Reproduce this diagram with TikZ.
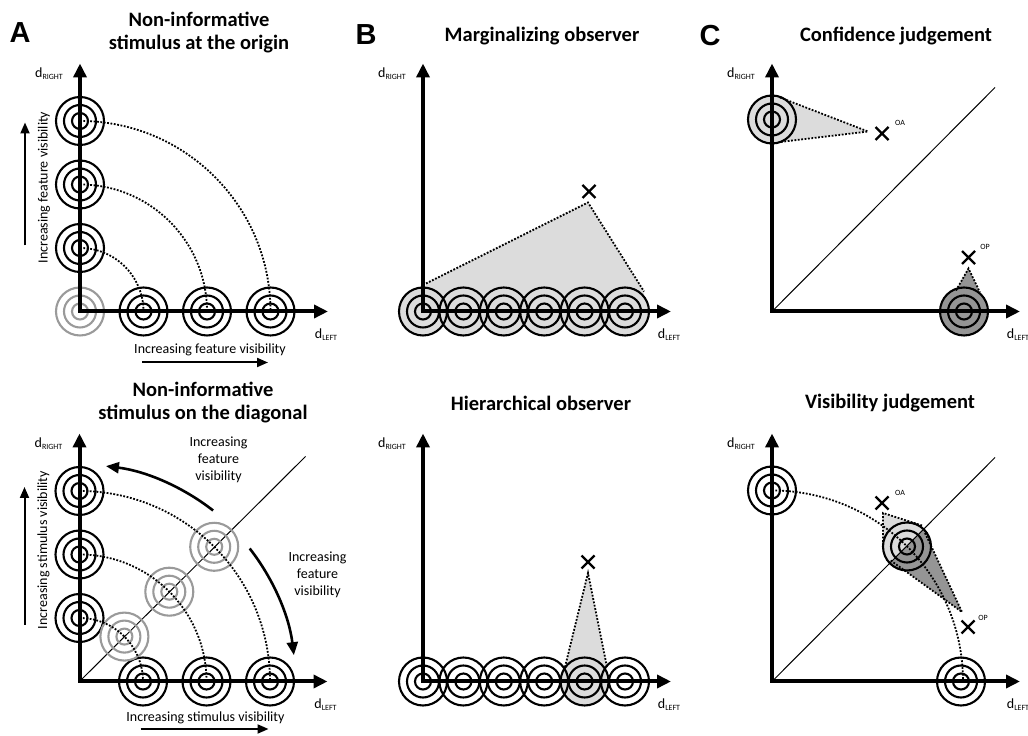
\documentclass[tikz,border=0pt]{standalone}
\usepackage{fontspec}
\setmainfont{Carlito}
\newfontfamily\letterfont{Liberation Sans}
\usetikzlibrary{arrows.meta,calc}

\definecolor{lgray}{HTML}{DCDCDC}
\definecolor{dgray}{HTML}{959595}
\definecolor{cgray}{HTML}{9A9A9A}

\tikzset{
  x=1pt, y=1pt,
  axis/.style={line width=4pt, line join=miter,
    {Triangle[length=14pt,width=13pt]}-{Triangle[length=14pt,width=13pt]}},
  ring/.style={line width=2.1pt},
  dots/.style={line width=1.8pt, dash pattern=on 1.8pt off 1.6pt},
  diag/.style={line width=1pt},
  sidearrow/.style={line width=2pt, -{Triangle[length=11pt,width=9pt]}},
  curvearrow/.style={line width=2.6pt, -{Triangle[length=13pt,width=11pt]}},
  title/.style={font=\fontsize{20.5}{23}\selectfont\bfseries, align=center, inner sep=0},
  small/.style={font=\fontsize{14}{17}\selectfont, align=center, inner sep=0},
  tiny/.style={font=\fontsize{8}{9}\selectfont, inner sep=0},
  letter/.style={font=\letterfont\fontsize{29}{30}\selectfont\bfseries, inner sep=0},
  cross/.style={line width=2.4pt},
  axlab/.style={font=\fontsize{14}{16}\selectfont, inner sep=0},
}
\newcommand{\dlab}[1]{d\raisebox{-2pt}{\fontsize{8}{9}\selectfont #1}}
\newcommand{\tgt}[3]{\draw[ring,#3] (#1,#2) circle[radius=24] (#1,#2) circle[radius=16] (#1,#2) circle[radius=8];}
\newcommand{\xmark}[2]{\draw[cross,shift={(#1,#2)}] (-6.5,-6.5) -- (6.5,6.5) (-6.5,6.5) -- (6.5,-6.5);}
\newcommand{\axes}{%
  \draw[axis] (0,248) -- (0,0) -- (248,0);
  \node[axlab] (dr) at (-31,238) {\dlab{RIGHT}};
  \node[axlab] (dl) at (246,-23) {\dlab{LEFT}};}

\begin{document}
\begin{tikzpicture}
\useasboundingbox (0,0) rectangle (1028,736);

% ---------- letters and titles ----------
\node[letter] (LA) at (20,703) {A};
\node[letter] (LB) at (366,701) {B};
\node[letter] (LC) at (710,700) {C};
\node[title] (TA1) at (199,703) {Non-informative\\stimulus at the origin};
\node[title] (TA2) at (203,333) {Non-informative\\stimulus on the diagonal};
\node[title] (TB1) at (542,700) {Marginalizing observer};
\node[title] (TB2) at (541,333) {Hierarchical observer};
\node[title] (TC1) at (896,700) {Confidence judgement};
\node[title] (TC2) at (890,333) {Visibility judgement};

% ---------- A top ----------
\begin{scope}[shift={(80,424.5)}]
  \tgt{0}{0}{cgray}
  \foreach \r in {63.5,127,190.5} {
    \tgt{0}{\r}{black}
    \tgt{\r}{0}{black}
    \draw[dots] (0,\r) arc[start angle=90,end angle=0,radius=\r];
  }
  \axes
  \draw[sidearrow] (-55,66) -- (-55,189);
  \node[small,rotate=90] (va) at (-36,124) {Increasing feature visibility};
  \node[small] (ha) at (130,-38) {Increasing feature visibility};
  \draw[sidearrow] (62,-51) -- (188,-51);
\end{scope}

% ---------- A bottom ----------
\begin{scope}[shift={(79.5,54.5)}]
  \draw[diag] (0,0) -- (226,225);
  \foreach \r in {63.5,127,190.5} {
    \tgt{0}{\r}{black}
    \tgt{\r}{0}{black}
    \tgt{\r*0.7071}{\r*0.7071}{cgray}
    \draw[dots] (0,\r) arc[start angle=90,end angle=0,radius=\r];
  }
  \axes
  \draw[curvearrow] (52:217) arc[start angle=52,end angle=83,radius=217];
  \draw[curvearrow] (38:216) arc[start angle=38,end angle=7,radius=216];
  \node[small] (fa) at (139,221.5) {Increasing\\feature\\visibility};
  \node[small] (fb) at (238,106.5) {Increasing\\feature\\visibility};
  \draw[sidearrow] (-55,56.5) -- (-55,194.5);
  \node[small,rotate=90] (vb) at (-36,131.5) {Increasing stimulus visibility};
  \node[small] (hb) at (126,-36.5) {Increasing stimulus visibility};
  \draw[sidearrow] (61,-47.5) -- (189,-47.5);
\end{scope}

% ---------- B top ----------
\begin{scope}[shift={(423,424.5)}]
  \fill[lgray] (3,28) -- (165,109) -- (221,20) -- (221,0) -- (0,0) -- cycle;
  \foreach \i in {0,...,5} { \fill[lgray] (\i*40.4,0) circle[radius=24]; }
  \draw[dots] (3,28) -- (165,109) -- (221,20);
  \foreach \i in {0,...,5} { \tgt{\i*40.4}{0}{black} }
  \xmark{166}{120}
  \axes
\end{scope}

% ---------- B bottom ----------
\begin{scope}[shift={(423,54.5)}]
  \fill[lgray] (161.6,0) circle[radius=24];
  \fill[lgray] (142,14.5) -- (165,108.5) -- (184,14.5) -- cycle;
  \draw[dots] (142,14.5) -- (165,108.5) -- (184,14.5);
  \foreach \i in {0,...,5} { \tgt{\i*40.4}{0}{black} }
  \xmark{165}{119.5}
  \axes
\end{scope}

% ---------- C top ----------
\begin{scope}[shift={(772,424.5)}]
  \draw[diag] (0,0) -- (223,224);
  \fill[lgray] (0,192) circle[radius=24];
  \fill[lgray] (8,214) -- (96,180) -- (8,169.5) -- cycle;
  \draw[dots] (8,214) -- (96,180) -- (8,169.5);
  \tgt{0}{192}{black}
  \xmark{110}{178}
  \node[tiny] (oa1) at (128,188.5) {OA};
  \fill[dgray] (192,0) circle[radius=24];
  \fill[dgray] (184,21) -- (196.5,43) -- (208,19) -- cycle;
  \draw[dots] (184,21) -- (196.5,43) -- (208,19);
  \tgt{192}{0}{black}
  \xmark{196.5}{54}
  \node[tiny] (op1) at (213,64.5) {OP};
  \axes
\end{scope}

% ---------- C bottom ----------
\begin{scope}[shift={(772,54.5)}]
  \coordinate (ca) at (111,168.5);
  \coordinate (cd) at (190,69.5);
  \coordinate (cc) at (135,135);
  \fill[lgray] (ca) -- (150,156) -- (cc) -- (111,135) -- cycle;
  \fill[dgray] (cd) -- (153,148.5) -- (cc) -- (118,121.5) -- cycle;
  \fill[lgray] (cc) -- ++(45:24) arc[start angle=45,end angle=225,radius=24] -- cycle;
  \fill[dgray] (cc) -- ++(225:24) arc[start angle=225,end angle=405,radius=24] -- cycle;
  \draw[dots] (150,156) -- (ca) -- (111,135);
  \draw[dots] (153,148.5) -- (cd) -- (118,121.5);
  \draw[diag] (0,0) -- (223,224);
  \tgt{0}{191}{black}
  \tgt{189}{0}{black}
  \tgt{135}{135}{black}
  \draw[dots] (0,191) arc[start angle=90,end angle=0,radius=191];
  \xmark{110}{178.5}
  \node[tiny] (oa2) at (128,188.5) {OA};
  \xmark{196}{54.5}
  \node[tiny] (op2) at (211,63.5) {OP};
  \axes
\end{scope}
\end{tikzpicture}
\end{document}
